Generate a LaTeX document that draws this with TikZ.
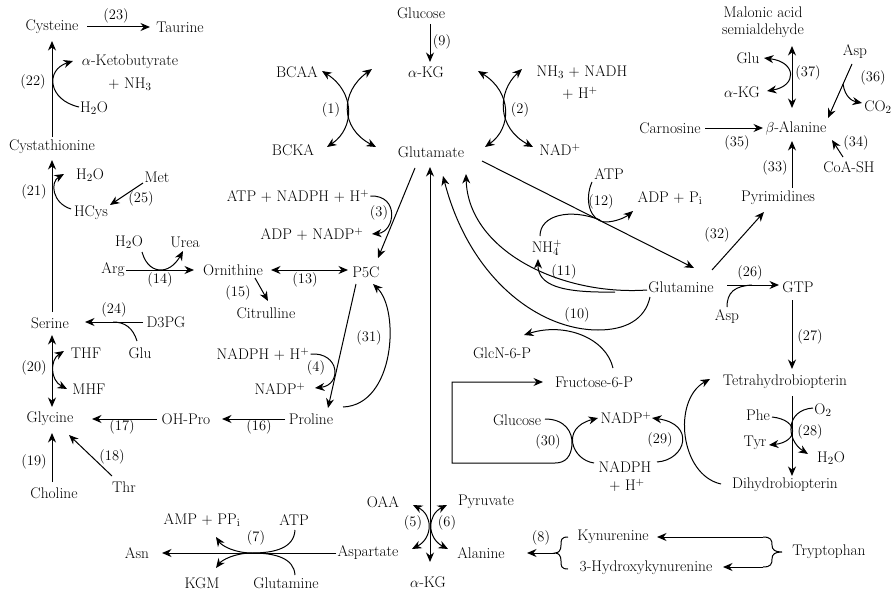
\documentclass[tikz,border=0pt]{standalone}
\usetikzlibrary{arrows.meta}
\begin{document}
\begin{tikzpicture}[x=1pt,y=-1pt,
 txt/.style={inner sep=1pt, font=\fontsize{15.4}{18}\selectfont},
 lbl/.style={inner sep=0pt, font=\fontsize{14.5}{17}\selectfont},
 ln/.style={line width=1pt},
 arr/.style={ln,-{Stealth[length=9.5pt,width=8pt]}},
 dbl/.style={ln,{Stealth[length=9.5pt,width=8pt]}-{Stealth[length=9.5pt,width=8pt]}}]
\path[use as bounding box] (0,0) rectangle (895,594);
% ---------- text nodes ----------
\node[txt] (cys) at (52,27) {Cysteine};
\node[txt] (tau) at (180,27) {Taurine};
\node[txt] (akb) at (130,62) {$\alpha$-Ketobutyrate};
\node[txt] (nh3a) at (130,84) {+ NH$_3$};
\node[txt] (h2oA) at (94,108) {H$_2$O};
\node[txt] (cysta) at (52,147) {Cystathionine};
\node[txt] (h2oB) at (90,175) {H$_2$O};
\node[txt] (met) at (157,177) {Met};
\node[txt] (hcys) at (91,213) {HCys};
\node[txt] (h2oC) at (129,242) {H$_2$O};
\node[txt] (urea) at (185,242) {Urea};
\node[txt] (arg) at (113,270) {Arg};
\node[txt] (orn) at (233,270) {Ornithine};
\node[txt] (citr) at (266,313) {Citrulline};
\node[txt] (ser) at (50,323) {Serine};
\node[txt] (d3pg) at (166,322) {D3PG};
\node[txt] (glua) at (140,353) {Glu};
\node[txt] (thf) at (86,353) {THF};
\node[txt] (mhf) at (89,389) {MHF};
\node[txt] (gly) at (50,419) {Glycine};
\node[txt] (ohpro) at (186,419) {OH-Pro};
\node[txt] (pro) at (311,419) {Proline};
\node[txt] (chol) at (54,493) {Choline};
\node[txt] (thr) at (124,487) {Thr};
\node[txt] (atpn) at (298,196) {ATP + NADPH + H$^+$};
\node[txt] (adpn) at (312,234) {ADP + NADP$^+$};
\node[txt] (p5c) at (366,272) {P5C};
\node[txt] (nadph4) at (263,354) {NADPH + H$^+$};
\node[txt] (nadp4) at (280,389) {NADP$^+$};
\node[txt] (glcA) at (421,13) {Glucose};
\node[txt] (akgA) at (426,72) {$\alpha$-KG};
\node[txt] (bcaa) at (297,72) {BCAA};
\node[txt] (bcka) at (293,150) {BCKA};
\node[txt] (glut) at (431,152) {Glutamate};
\node[txt] (nh3n) at (582,72) {NH$_3$ + NADH};
\node[txt] (hp2) at (580,93) {+ H$^+$};
\node[txt] (nad) at (560,150) {NAD$^+$};
\node[txt] (mal) at (763,12) {Malonic acid};
\node[txt] (semi) at (763,31) {semialdehyde};
\node[txt] (glub) at (748,58) {Glu};
\node[txt] (akgB) at (742,92) {$\alpha$-KG};
\node[txt] (aspa) at (855,52) {Asp};
\node[txt] (co2) at (878,107) {CO$_2$};
\node[txt] (carn) at (670,128) {Carnosine};
\node[txt] (bala) at (796,128) {$\beta$-Alanine};
\node[txt] (coash) at (849,167) {CoA-SH};
\node[txt] (pyr) at (778,198) {Pyrimidines};
\node[txt] (atp12) at (609,174) {ATP};
\node[txt] (adppi) at (670,198) {ADP + P$_\mathrm{i}$};
\node[txt] (nh4) at (547,248) {NH$_4^+$};
\node[txt] (gln) at (681,287) {Glutamine};
\node[txt] (gtp) at (798,287) {GTP};
\node[txt] (aspb) at (727,317) {Asp};
\node[txt] (glcn) at (502,353) {GlcN-6-P};
\node[txt] (fru) at (594,382) {Fructose-6-P};
\node[txt] (thb) at (785,382) {Tetrahydrobiopterin};
\node[txt] (glcB) at (517,420) {Glucose};
\node[txt] (nadpb) at (626,418) {NADP$^+$};
\node[txt] (phe) at (758,415) {Phe};
\node[txt] (o2) at (823,410) {O$_2$};
\node[txt] (tyr) at (755,443) {Tyr};
\node[txt] (h2oD) at (831,458) {H$_2$O};
\node[txt] (dhb) at (785,485) {Dihydrobiopterin};
\node[txt] (nadphb) at (625,467) {NADPH};
\node[txt] (hpb) at (627,485) {+ H$^+$};
\node[txt] (asn) at (137,553) {Asn};
\node[txt] (amp) at (202,520) {AMP + PP$_\mathrm{i}$};
\node[txt] (atp7) at (294,520) {ATP};
\node[txt] (kgm) at (202,583) {KGM};
\node[txt] (gln7) at (286,583) {Glutamine};
\node[txt] (aspt) at (368,553) {Aspartate};
\node[txt] (akgC) at (428,582) {$\alpha$-KG};
\node[txt] (oaa) at (383,502) {OAA};
\node[txt] (pyrv) at (486,502) {Pyruvate};
\node[txt] (ala) at (481,553) {Alanine};
\node[txt] (kyn) at (613,537) {Kynurenine};
\node[txt] (hkyn) at (646,568) {3-Hydroxykynurenine};
\node[txt] (trp) at (829,552) {Tryptophan};
% ---------- reaction labels ----------
\node[lbl] (l1) at (331,110) {(1)};
\node[lbl] (l2) at (520,110) {(2)};
\node[lbl] (l3) at (379,213) {(3)};
\node[lbl] (l4) at (316,368) {(4)};
\node[lbl] (l5) at (413,523) {(5)};
\node[lbl] (l6) at (447,523) {(6)};
\node[lbl] (l7) at (256,538) {(7)};
\node[lbl] (l8) at (541,538) {(8)};
\node[lbl] (l9) at (442,42) {(9)};
\node[lbl] (l10) at (577,315) {(10)};
\node[lbl] (l11) at (564,272) {(11)};
\node[lbl] (l12) at (601,202) {(12)};
\node[lbl] (l13) at (305,280) {(13)};
\node[lbl] (l14) at (160,280) {(14)};
\node[lbl] (l15) at (238,293) {(15)};
\node[lbl] (l16) at (259,427) {(16)};
\node[lbl] (l17) at (122,427) {(17)};
\node[lbl] (l18) at (112,457) {(18)};
\node[lbl] (l19) at (34,462) {(19)};
\node[lbl] (l20) at (34,368) {(20)};
\node[lbl] (l21) at (34,192) {(21)};
\node[lbl] (l22) at (33,82) {(22)};
\node[lbl] (l23) at (116,16) {(23)};
\node[lbl] (l24) at (114,310) {(24)};
\node[lbl] (l25) at (141,199) {(25)};
\node[lbl] (l26) at (750,273) {(26)};
\node[lbl] (l27) at (810,337) {(27)};
\node[lbl] (l28) at (810,432) {(28)};
\node[lbl] (l29) at (660,440) {(29)};
\node[lbl] (l30) at (548,442) {(30)};
\node[lbl] (l31) at (369,338) {(31)};
\node[lbl] (l32) at (717,235) {(32)};
\node[lbl] (l33) at (775,168) {(33)};
\node[lbl] (l34) at (856,143) {(34)};
\node[lbl] (l35) at (737,143) {(35)};
\node[lbl] (l36) at (873,78) {(36)};
\node[lbl] (l37) at (808,73) {(37)};
% ---------- connector end points ----------
\coordinate (a23s) at (87,27);  \coordinate (a23e) at (150,27);
\coordinate (a22s) at (52,137); \coordinate (a22e) at (52,41);
\coordinate (b22s) at (79,107); \coordinate (b22e) at (73,61);
\coordinate (a21s) at (52,312); \coordinate (a21e) at (52,160);
\coordinate (b21s) at (71,209); \coordinate (b21e) at (64,174);
\coordinate (a25s) at (143,183); \coordinate (a25e) at (110,205);
\coordinate (a14e) at (194,270);
\coordinate (b14s) at (142,252); \coordinate (b14m) at (161,270); \coordinate (b14e) at (183,251);
\coordinate (a13s) at (271,270); \coordinate (a13e) at (348,270);
\coordinate (a15s) at (255,278); \coordinate (a15e) at (268,301);
\coordinate (a3s) at (415,168); \coordinate (a3e) at (378,258);
\coordinate (b3e) at (372,234);
\coordinate (a4s) at (356,284); \coordinate (a4e) at (328,408);
\coordinate (b4e) at (315,388);
\coordinate (a31s) at (343,407); \coordinate (a31e) at (373,284);
\coordinate (a16s) at (285,419); \coordinate (a16e) at (222,419);
\coordinate (a17s) at (157,419); \coordinate (a17e) at (92,419);
\coordinate (a24s) at (143,322); \coordinate (a24e) at (85,322);
\coordinate (b24s) at (137,341); \coordinate (b24e) at (113,322);
\coordinate (a20s) at (52,335); \coordinate (a20e) at (52,407);
\coordinate (b20s) at (64,351); \coordinate (b20e) at (67,389);
\coordinate (a19s) at (52,482); \coordinate (a19e) at (52,433);
\coordinate (a18s) at (112,476); \coordinate (a18e) at (69,435);
\coordinate (a9s) at (430,24); \coordinate (a9e) at (430,62);
\coordinate (a1a) at (322,71); \coordinate (a1b) at (327,147);
\coordinate (a1c) at (372,69); \coordinate (a1d) at (376,147);
\coordinate (a2a) at (478,71); \coordinate (a2b) at (485,147);
\coordinate (a2c) at (522,69); \coordinate (a2d) at (533,147);
\coordinate (a0s) at (430,167); \coordinate (a0e) at (430,562);
\coordinate (a5a) at (413,505); \coordinate (a5b) at (412,549);
\coordinate (a6a) at (447,505); \coordinate (a6b) at (448,549);
\coordinate (a7e) at (162,553);
\coordinate (b7a) at (295,530); \coordinate (b7m) at (252,553); \coordinate (b7b) at (216,537);
\coordinate (b7c) at (295,575); \coordinate (b7d) at (216,568);
\coordinate (a8s) at (555,553); \coordinate (a8e) at (527,553);
\coordinate (br8t) at (568,537); \coordinate (br8b) at (568,569);
\coordinate (trt) at (763,537); \coordinate (trb) at (763,567);
\coordinate (trtip) at (782,552);
\coordinate (kyne) at (657,537); \coordinate (hkyne) at (723,567);
\coordinate (a10s) at (650,297); \coordinate (a10m) at (598,330); \coordinate (a10e) at (443,176);
\coordinate (b10s) at (613,368); \coordinate (b10e) at (524,335);
\coordinate (a11s) at (647,290); \coordinate (a11e) at (466,174);
\coordinate (b11s) at (615,292); \coordinate (b11e) at (538,259);
\coordinate (a12s) at (482,161); \coordinate (a12e) at (694,268);
\coordinate (b12s) at (540,236); \coordinate (b12m) at (600,220);
\coordinate (c12s) at (592,182); \coordinate (c12m) at (605,222); \coordinate (c12e) at (633,211);
\coordinate (a37s) at (792,46); \coordinate (a37e) at (792,108);
\coordinate (b37s) at (764,58); \coordinate (b37e) at (767,91);
\coordinate (a36s) at (852,64); \coordinate (a36e) at (828,118);
\coordinate (b36s) at (843,84); \coordinate (b36e) at (862,103);
\coordinate (a35s) at (705,128); \coordinate (a35e) at (763,128);
\coordinate (a34s) at (843,157); \coordinate (a34e) at (832,140);
\coordinate (a33s) at (792,188); \coordinate (a33e) at (792,141);
\coordinate (a32s) at (712,270); \coordinate (a32e) at (764,212);
\coordinate (a26s) at (727,285); \coordinate (a26e) at (779,285);
\coordinate (b26s) at (727,307); \coordinate (b26e) at (752,285);
\coordinate (a27s) at (792,300); \coordinate (a27e) at (792,369);
\coordinate (a28s) at (792,396); \coordinate (a28e) at (792,476);
\coordinate (b28s) at (772,417); \coordinate (b28e) at (769,445);
\coordinate (c28s) at (813,408); \coordinate (c28e) at (808,454);
\coordinate (a29s) at (721,484); \coordinate (a29e) at (710,379);
\coordinate (b29s) at (657,462); \coordinate (b29e) at (652,418);
\coordinate (a30s) at (545,419); \coordinate (a30m) at (572,445); \coordinate (a30n) at (555,463);
\coordinate (a30c1) at (452,463); \coordinate (a30c2) at (452,382); \coordinate (a30e) at (543,382);
\coordinate (b30s) at (594,463); \coordinate (b30e) at (598,418);
% ---------- connectors ----------
\draw[arr] (a23s) -- (a23e);
\draw[arr] (a22s) -- (a22e);
\draw[arr] (b22s) .. controls (48,100) and (45,70) .. (b22e);
\draw[arr] (a21s) -- (a21e);
\draw[arr] (b21s) .. controls (52,203) and (50,182) .. (b21e);
\draw[arr] (a25s) -- (a25e);
\draw[arr] (arg.east) -- (a14e);
\draw[arr] (b14s) .. controls (146,266) and (154,270) .. (b14m) .. controls (170,270) and (177,262) .. (b14e);
\draw[dbl] (a13s) -- (a13e);
\draw[arr] (a15s) -- (a15e);
\draw[arr] (a3s) -- (a3e);
\draw[arr] (atpn.east) .. controls (400,195) and (395,232) .. (b3e);
\draw[arr] (a4s) -- (a4e);
\draw[arr] (nadph4.east) .. controls (340,352) and (342,385) .. (b4e);
\draw[arr] (a31s) .. controls (395,405) and (400,310) .. (a31e);
\draw[arr] (a16s) -- (a16e);
\draw[arr] (a17s) -- (a17e);
\draw[arr] (a24s) -- (a24e);
\draw[ln] (b24s) .. controls (133,328) and (125,322) .. (b24e);
\draw[dbl] (a20s) -- (a20e);
\draw[dbl] (b20s) .. controls (50,360) and (50,380) .. (b20e);
\draw[arr] (a19s) -- (a19e);
\draw[arr] (a18s) -- (a18e);
\draw[arr] (a9s) -- (a9e);
\draw[dbl] (a1a) .. controls (355,92) and (355,128) .. (a1b);
\draw[dbl] (a1c) .. controls (340,92) and (340,128) .. (a1d);
\draw[dbl] (a2a) .. controls (512,92) and (512,128) .. (a2b);
\draw[dbl] (a2c) .. controls (497,92) and (497,128) .. (a2d);
\draw[dbl] (a0s) -- (a0e);
\draw[dbl] (a5a) .. controls (433,515) and (433,538) .. (a5b);
\draw[dbl] (a6a) .. controls (427,515) and (427,538) .. (a6b);
\draw[arr] (aspt.west) -- (a7e);
\draw[arr] (b7a) .. controls (294,548) and (275,553) .. (b7m) .. controls (235,553) and (222,546) .. (b7b);
\draw[arr] (b7c) .. controls (294,558) and (275,553) .. (b7m) .. controls (235,553) and (222,560) .. (b7d);
\draw[arr] (a8s) -- (a8e);
\draw[ln] (br8t) .. controls (561,537) and (561,540) .. (561,545) .. controls (561,550) and (559,553) .. (a8s) .. controls (559,553) and (561,556) .. (561,561) .. controls (561,566) and (561,569) .. (br8b);
\draw[ln] (trt) .. controls (771,537) and (772,540) .. (772,545) .. controls (772,550) and (775,552) .. (trtip) .. controls (775,552) and (772,554) .. (772,559) .. controls (772,564) and (771,567) .. (trb);
\draw[arr] (trt) -- (kyne);
\draw[arr] (trb) -- (hkyne);
\draw[arr] (a10s) .. controls (645,320) and (625,330) .. (a10m) .. controls (540,330) and (470,280) .. (a10e);
\draw[arr] (b10s) .. controls (606,338) and (565,322) .. (b10e);
\draw[arr] (a11s) .. controls (560,296) and (468,250) .. (a11e);
\draw[arr] (b11s) .. controls (560,293) and (538,285) .. (b11e);
\draw[arr] (a12s) -- (a12e);
\draw[ln] (b12s) .. controls (540,215) and (570,208) .. (b12m);
\draw[arr] (c12s) .. controls (584,200) and (590,221) .. (c12m) .. controls (616,222) and (626,217) .. (c12e);
\draw[dbl] (a37s) -- (a37e);
\draw[dbl] (b37s) .. controls (797,62) and (797,86) .. (b37e);
\draw[arr] (a36s) -- (a36e);
\draw[arr] (b36s) .. controls (845,97) and (852,101) .. (b36e);
\draw[arr] (a35s) -- (a35e);
\draw[arr] (a34s) -- (a34e);
\draw[arr] (a33s) -- (a33e);
\draw[arr] (a32s) -- (a32e);
\draw[arr] (a26s) -- (a26e);
\draw[ln] (b26s) .. controls (727,292) and (735,286) .. (b26e);
\draw[arr] (a27s) -- (a27e);
\draw[arr] (a28s) -- (a28e);
\draw[arr] (b28s) .. controls (800,420) and (798,442) .. (b28e);
\draw[arr] (c28s) .. controls (785,410) and (786,440) .. (c28e);
\draw[arr] (a29s) .. controls (680,475) and (672,400) .. (a29e);
\draw[arr] (b29s) .. controls (686,460) and (696,424) .. (b29e);
\draw[arr] (a30s) .. controls (565,419) and (573,432) .. (a30m) .. controls (571,456) and (566,463) .. (a30n) -- (a30c1) -- (a30c2) -- (a30e);
\draw[arr] (b30s) .. controls (572,460) and (560,428) .. (b30e);
\end{tikzpicture}
\end{document}
